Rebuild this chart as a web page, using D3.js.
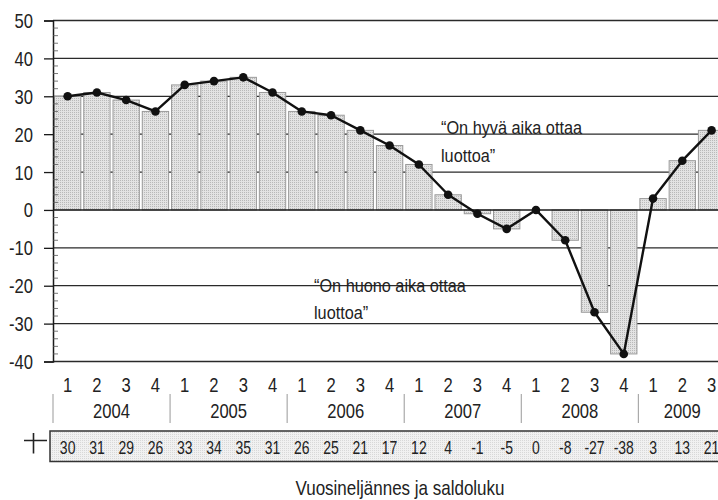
<!DOCTYPE html>
<html>
<head>
<meta charset="utf-8">
<script src="https://cdn.jsdelivr.net/npm/d3@7"></script>
<style>
  html, body { margin: 0; padding: 0; background: #fff; }
  svg { display: block; }
  text { font-family: "Liberation Sans", Arial, sans-serif; fill: #222; }
</style>
</head>
<body>
<svg id="chart" width="718" height="500"></svg>
<script>
// Quarterly balance figures, Q1/2004 – Q3/2009
const years = ["2004", "2005", "2006", "2007", "2008", "2009"];
const quarterLabels = ["1","2","3","4","1","2","3","4","1","2","3","4","1","2","3","4","1","2","3","4","1","2","3"];
const quarterYears = ["2004","2004","2004","2004","2005","2005","2005","2005","2006","2006","2006","2006",
                      "2007","2007","2007","2007","2008","2008","2008","2008","2009","2009","2009"];
const balance = [30, 31, 29, 26, 33, 34, 35, 31, 26, 25, 21, 17, 12, 4, -1, -5, 0, -8, -27, -38, 3, 13, 21];
const yTicks = [50, 40, 30, 20, 10, 0, -10, -20, -30, -40];
const goodLabel = ["“On hyvä aika ottaa", "luottoa”"];
const badLabel = ["“On huono aika ottaa", "luottoa”"];
const axisTitle = "Vuosineljännes ja saldoluku";

const svg = d3.select("#chart");
const W = 718;
const left = 53, step = 29.27;
const idx = d3.range(balance.length);

// condensed lettering: horizontally squeezed text anchored at (px, py)
function squeeze(sel, px, py, sx) {
  sel.attr("x", 0).attr("y", 0)
    .attr("transform", (d, i) => {
      const X = typeof px === "function" ? px(d, i) : px;
      const Y = typeof py === "function" ? py(d, i) : py;
      return `translate(${X},${Y}) scale(${sx},1)`;
    });
  return sel;
}

const x = d3.scaleBand()
  .domain(idx)
  .range([left, left + step * balance.length])
  .paddingInner(0.1)
  .paddingOuter(0.05);

const y = d3.scaleLinear().domain([-40, 50]).range([361.5, 20.5]);

// stipple fill for the bars and the value strip
const defs = svg.append("defs");
const pat = defs.append("pattern").attr("id", "stipple")
  .attr("width", 2).attr("height", 2).attr("patternUnits", "userSpaceOnUse");
pat.append("rect").attr("width", 2).attr("height", 2).attr("fill", "#e3e3e3");
pat.append("rect").attr("width", 1).attr("height", 1).attr("fill", "#b9b9b9");
const pat2 = defs.append("pattern").attr("id", "stippleLight")
  .attr("width", 2).attr("height", 2).attr("patternUnits", "userSpaceOnUse");
pat2.append("rect").attr("width", 2).attr("height", 2).attr("fill", "#f1f1f1");
pat2.append("rect").attr("width", 1).attr("height", 1).attr("fill", "#d8d8d8");

// horizontal gridlines
svg.append("g").selectAll("line")
  .data(yTicks.filter(d => d !== 0))
  .join("line")
  .attr("x1", left).attr("x2", W)
  .attr("y1", d => y(d)).attr("y2", d => y(d))
  .attr("stroke", "#2a2a2a").attr("stroke-width", 1.3);

// bars
svg.append("g").selectAll("rect")
  .data(idx)
  .join("rect")
  .attr("x", i => x(i))
  .attr("width", x.bandwidth())
  .attr("y", i => y(Math.max(0, balance[i])))
  .attr("height", i => Math.abs(y(balance[i]) - y(0)))
  .attr("fill", "url(#stipple)")
  .attr("stroke", "#9a9a9a")
  .attr("stroke-width", 1);

// zero line on top of bars
svg.append("line")
  .attr("x1", left).attr("x2", W)
  .attr("y1", y(0)).attr("y2", y(0))
  .attr("stroke", "#1a1a1a").attr("stroke-width", 1.6);

// left axis: major ticks outside, minor ticks inside
const yAxis = d3.axisLeft(y).tickValues(yTicks).tickSize(9).tickFormat(d => String(d));
const gy = svg.append("g").attr("transform", `translate(${left},0)`).call(yAxis);
gy.select(".domain").attr("stroke", "#1a1a1a").attr("stroke-width", 1.5);
gy.selectAll(".tick line").attr("stroke", "#1a1a1a").attr("stroke-width", 1.3);
gy.selectAll(".tick text")
  .attr("font-size", 20).attr("fill", "#222").attr("dy", null)
  .attr("text-anchor", "end")
  .attr("transform", "translate(-20,7) scale(0.83,1)")
  .attr("x", 0).attr("y", 0);

const minor = d3.range(-40, 50, 2).filter(v => v % 10 !== 0);
svg.append("g").selectAll("line")
  .data(minor)
  .join("line")
  .attr("x1", left).attr("x2", left + 5)
  .attr("y1", d => y(d)).attr("y2", d => y(d))
  .attr("stroke", "#555").attr("stroke-width", 0.8);

// line series with markers
const cx = i => x(i) + x.bandwidth() / 2;
svg.append("path")
  .datum(idx)
  .attr("fill", "none")
  .attr("stroke", "#111")
  .attr("stroke-width", 2.4)
  .attr("stroke-linejoin", "round")
  .attr("d", d3.line().x(cx).y(i => y(balance[i])));

svg.append("g").selectAll("circle")
  .data(idx)
  .join("circle")
  .attr("cx", cx)
  .attr("cy", i => y(balance[i]))
  .attr("r", 4.3)
  .attr("fill", "#111");

// annotations
const ann = svg.append("g").attr("font-size", 18.5);
squeeze(ann.selectAll("text.good").data(goodLabel).join("text").attr("class", "good").text(d => d),
  441, (d, k) => 133.5 + k * 28, 0.88);
squeeze(ann.selectAll("text.bad").data(badLabel).join("text").attr("class", "bad").text(d => d),
  314, (d, k) => 291.5 + k * 27, 0.88);

// quarter labels
squeeze(svg.append("g").selectAll("text")
  .data(idx)
  .join("text")
  .attr("text-anchor", "middle")
  .attr("font-size", 20)
  .text(i => quarterLabels[i]), i => cx(i), 391.5, 0.83);

// year groups
const yearGroups = years.map(yr => {
  const members = idx.filter(i => quarterYears[i] === yr);
  return { yr, first: members[0], last: members[members.length - 1] };
});
svg.append("g").selectAll("line")
  .data(yearGroups)
  .join("line")
  .attr("x1", g => x(g.first) - x.step() * x.paddingInner() / 2)
  .attr("x2", g => x(g.first) - x.step() * x.paddingInner() / 2)
  .attr("y1", 394).attr("y2", 423)
  .attr("stroke", "#aaa").attr("stroke-width", 1.2);
squeeze(svg.append("g").selectAll("text")
  .data(yearGroups)
  .join("text")
  .attr("text-anchor", "middle")
  .attr("font-size", 20)
  .text(g => g.yr), g => (cx(g.first) + cx(g.last)) / 2, 418, 0.83);

// value strip with legend symbol
svg.append("rect")
  .attr("x", 50).attr("y", 431)
  .attr("width", W - 50 + 5).attr("height", 30.5)
  .attr("fill", "url(#stippleLight)")
  .attr("stroke", "#333").attr("stroke-width", 1.5);
svg.append("path")
  .attr("d", "M24,440.5 L47,440.5 M33.5,433 L33.5,453.5")
  .attr("stroke", "#222").attr("stroke-width", 1.6).attr("fill", "none");
squeeze(svg.append("g").selectAll("text")
  .data(idx)
  .join("text")
  .attr("text-anchor", "middle")
  .attr("font-size", 17.5)
  .text(i => String(balance[i])), i => cx(i), 453.5, 0.8);

// axis title
squeeze(svg.append("text")
  .attr("text-anchor", "middle")
  .attr("font-size", 20)
  .text(axisTitle), 400, 495, 0.85);
</script>
</body>
</html>
